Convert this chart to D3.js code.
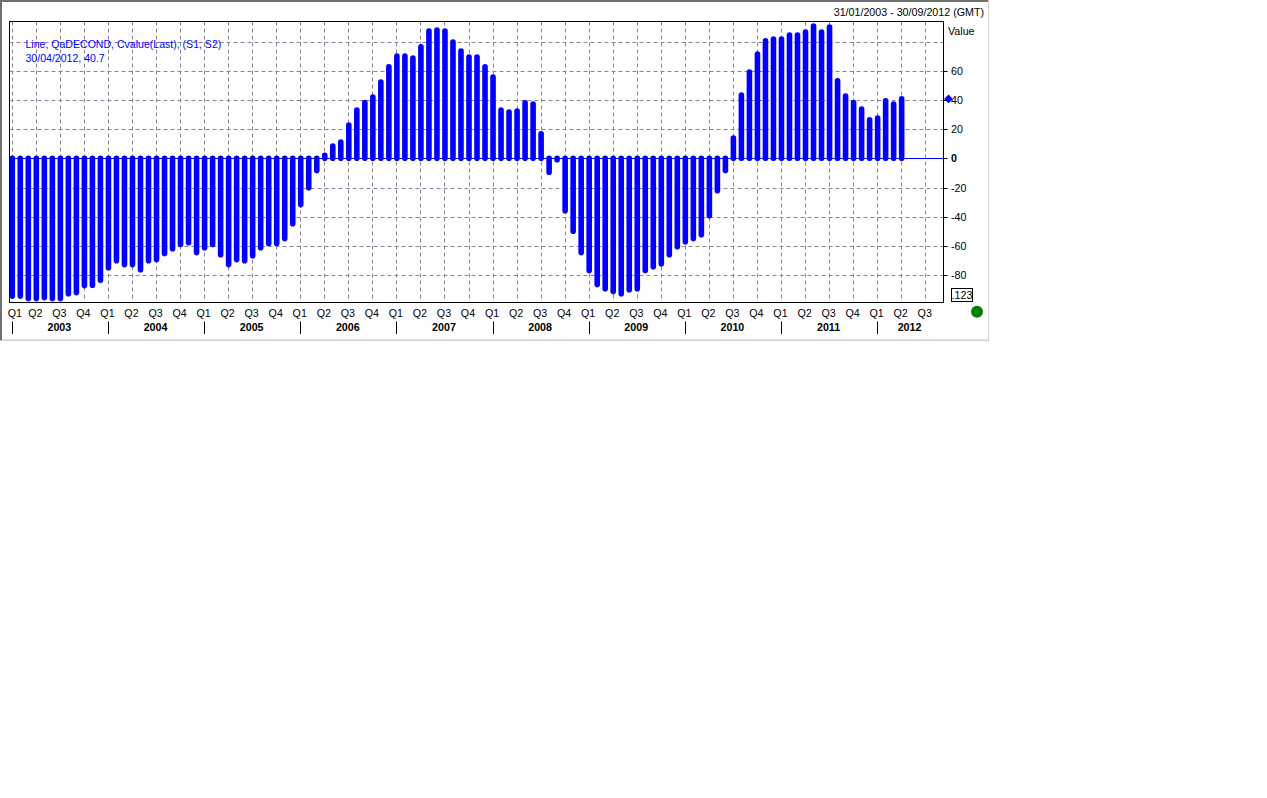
<!DOCTYPE html>
<html><head><meta charset="utf-8">
<script src="https://d3js.org/d3.v7.min.js"></script>
<style>
html,body{margin:0;padding:0;background:#fff;overflow:hidden}
svg{display:block}
text{font-family:"Liberation Sans",Arial,sans-serif;font-size:10.7px;fill:#000}
</style></head><body>
<svg id="c" width="1267" height="798"></svg>
<script>
const values = [
 -94.4,-94.4,-96.1,-96.1,-95.4,-96.1,-96.1,-92.7,-92,-87.2,-87,-83.6,
 -74.9,-70.1,-72.8,-72.8,-76.3,-70.1,-69.4,-65.3,-61.9,-59.1,-57.8,-64.6,
 -61.2,-59.1,-66,-72.8,-69.4,-70.1,-66.7,-61.2,-58.4,-58.4,-55,-44.8,
 -31.7,-20.1,-8.4,2,8.4,11.2,22.8,33.1,38.1,42,52.3,62.6,
 70.1,70.1,68.7,76.3,87.2,87.9,87.2,79.7,73.5,69.4,69.4,62.6,
 55.7,33.1,31.7,32.4,38,37.2,16.7,-9.6,-1,-35.9,-50,-64.6,
 -76.9,-86.5,-89.3,-91.3,-92.7,-90,-89.3,-76.9,-74.2,-72.2,-66,-60.5,
 -57.1,-55,-52.3,-39.3,-22.2,-8.4,13.9,43.4,59.1,71.4,80.4,81.7,
 81.7,84.4,84.4,86.4,90.6,86.4,89.9,53,42.7,38.1,33.8,26.3,
 27.6,39.3,37.2,40.7];
const quarterLabels = ["Q1","Q2","Q3","Q4"];
const years = [2003,2004,2005,2006,2007,2008,2009,2010,2011,2012];
const quarterCount = 39;
const gridValues = [80,60,40,20,0,-20,-40,-60,-80];
const tickValues = [60,40,20,0,-20,-40,-60,-80];
const rangeLabel = "31/01/2003 - 30/09/2012 (GMT)";
const legendLines = ["Line, QaDECOND, Cvalue(Last), (S1, S2)","30/04/2012, 40.7"];
const lastValue = 40.7;

const svg = d3.select("#c");
const L=9.5,R=943.5,T=21.5,B=302.5;
const x = d3.scaleLinear().domain([0,114]).range([12.3,925.7]);
const y = d3.scaleLinear().domain([0,60]).range([158.3,70.7]);
const px = v=>Math.round(v)+0.5;

// window frame
svg.append("rect").attr("x",0).attr("y",0).attr("width",989).attr("height",341).attr("fill","#d4d0c8");
svg.append("rect").attr("x",0).attr("y",0).attr("width",988).attr("height",2).attr("fill","#707070");
svg.append("rect").attr("x",0).attr("y",0).attr("width",2).attr("height",340).attr("fill","#707070");
svg.append("rect").attr("x",2).attr("y",2).attr("width",986).attr("height",337.5).attr("fill","#fff");

// grid
const grid = svg.append("g").attr("stroke","#8a8498").attr("stroke-width",1).attr("stroke-dasharray","4,3").attr("fill","none");
grid.selectAll("line.h").data(gridValues.filter(d=>d!==0)).join("line")
  .attr("x1",L).attr("x2",R).attr("y1",d=>px(y(d))).attr("y2",d=>px(y(d)));
const qIdx = d3.range(quarterCount).map(i=>i*3);
grid.selectAll("line.v").data(qIdx).join("line")
  .attr("x1",d=>px(x(d)-0.5)).attr("x2",d=>px(x(d)-0.5)).attr("y1",T).attr("y2",B);

// zero line
svg.append("line").attr("x1",L).attr("x2",R).attr("y1",px(y(0)-0.5)).attr("y2",px(y(0)-0.5)).attr("stroke","#0000ff");

// stems
svg.append("g").selectAll("line").data(values).join("line")
  .attr("x1",(d,i)=>x(i)).attr("x2",(d,i)=>x(i))
  .attr("y1",y(0)).attr("y2",d=>y(d))
  .attr("stroke","#0000ff").attr("stroke-width",5.6).attr("stroke-linecap","round");

// plot frame
svg.append("rect").attr("x",L).attr("y",T).attr("width",R-L).attr("height",B-T)
  .attr("fill","none").attr("stroke","#000");

// y ticks
const yt = svg.append("g");
yt.selectAll("line").data(tickValues).join("line")
  .attr("x1",R).attr("x2",R+4).attr("y1",d=>px(y(d))).attr("y2",d=>px(y(d))).attr("stroke","#000");
yt.selectAll("text").data(tickValues).join("text")
  .attr("x",951).attr("y",d=>y(d)+4)
  .style("font-weight",d=>d===0?"bold":"normal").text(d=>d);
svg.append("text").attr("x",948).attr("y",35).text("Value");

// last value marker
svg.append("path").attr("d",d3.symbol(d3.symbolDiamond2,50)())
  .attr("transform",`translate(948.5,${y(lastValue)})`).attr("fill","#0000ff");

// quarter labels
svg.append("g").selectAll("text").data(qIdx).join("text")
  .attr("x",(d,i)=>i===0?x(d)+2.5:x(d)-1).attr("y",317).attr("text-anchor","middle")
  .text((d,i)=>quarterLabels[i%4]);

// year separators and labels
const yearStart = years.map((d,i)=>i*12);
svg.append("g").selectAll("line").data(yearStart).join("line")
  .attr("x1",d=>px(x(d)-0.5)).attr("x2",d=>px(x(d)-0.5)).attr("y1",321.5).attr("y2",334).attr("stroke","#000");
svg.append("g").selectAll("text").data(years).join("text")
  .attr("x",(d,i)=>{const a=x(yearStart[i]);const b=i<years.length-1?x(yearStart[i+1]):R;return (a+b)/2-1;})
  .attr("y",331).attr("text-anchor","middle").style("font-weight","bold").text(d=>d);

// header and legend
svg.append("text").attr("x",984).attr("y",16).attr("text-anchor","end").text(rangeLabel);
svg.append("g").selectAll("text").data(legendLines).join("text")
  .attr("x",25.5).attr("y",(d,i)=>48+i*14).style("fill","#0000ff").style("font-size","10.55px").text(d=>d);

// input box and status light
svg.append("rect").attr("x",951.5).attr("y",288.5).attr("width",21).attr("height",13).attr("fill","#fff").attr("stroke","#000");
svg.append("text").attr("x",962).attr("y",299).attr("text-anchor","middle").text(".123");
svg.append("circle").attr("cx",977).attr("cy",311.7).attr("r",6).attr("fill","#008000");
</script>
</body></html>
